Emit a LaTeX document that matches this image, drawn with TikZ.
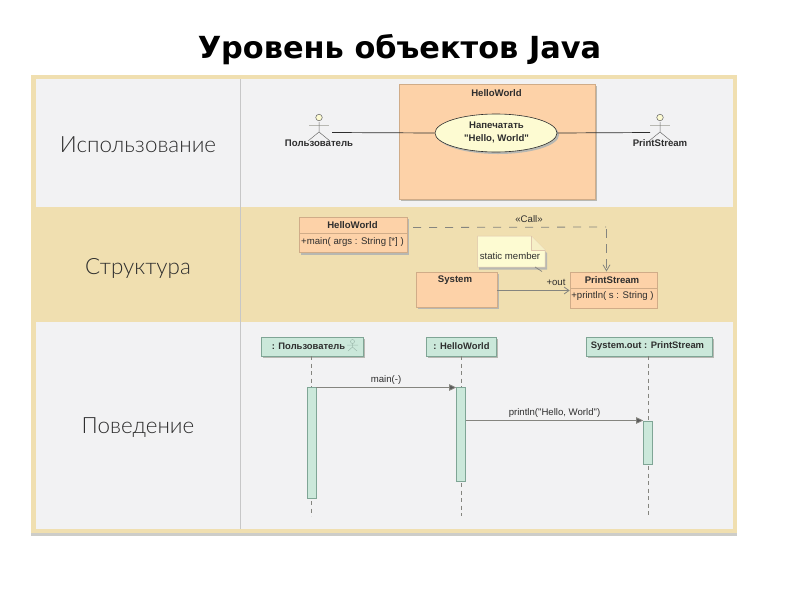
\documentclass[tikz,border=0pt]{standalone}
\usepackage{fontspec}
\setmainfont[Ligatures=NoCommon,Mapping=]{Liberation Sans}
\newfontfamily\titlefont{DejaVu Sans}
\newfontfamily\headfont{Lato Light}
\usetikzlibrary{shapes.geometric,arrows.meta}
\definecolor{beige}{HTML}{F0DFB0}
\definecolor{panel}{HTML}{F2F2F3}
\definecolor{peach}{HTML}{FDD2A8}
\definecolor{peachline}{HTML}{D0AC88}
\definecolor{mint}{HTML}{CBE8DA}
\definecolor{mintline}{HTML}{7FA595}
\definecolor{cream}{HTML}{FDFBD2}
\definecolor{shade}{HTML}{B8B8B2}
\definecolor{ink}{HTML}{2E2E2E}
\definecolor{wire}{HTML}{85857F}
\tikzset{
  x=1pt,y=-1pt,
  headlabel/.style={font=\headfont\fontsize{22.4}{26}\selectfont,text=ink,inner sep=0pt,anchor=center},
  small/.style={font=\fontsize{9.6}{13}\selectfont,text=ink,inner sep=0pt,anchor=center,align=center},
  smallb/.style={small,font=\bfseries\fontsize{9.6}{13}\selectfont},
  seqb/.style={small,font=\bfseries\fontsize{9.4}{11}\selectfont},
  peachbox/.style={draw=peachline,fill=peach,line width=.6pt},
  mintbox/.style={draw=mintline,fill=mint,line width=.6pt},
  shadowbox/.style={fill=shade,draw=none},
  wireline/.style={draw=wire,line width=.8pt},
  life/.style={draw=wire,line width=.8pt,dash pattern=on 4pt off 3.5pt},
  msg/.style={wireline,-{Triangle[length=7pt,width=6.5pt,fill=ink!80]}},
  openarrow/.style={wireline,-{Straight Barb[length=5pt,width=7pt]}},
}
\begin{document}
\begin{tikzpicture}
\useasboundingbox (0,0) rectangle (800,600);
\fill[white] (0,0) rectangle (800,600);
% title
\node[font=\titlefont\bfseries\fontsize{30.4}{34}\selectfont,inner sep=0pt] (title) at (399.5,49.5) {Уровень объектов Java};
% panels
\fill[shade!70] (31,532) rectangle (737,536);
\fill[beige] (31,75) rectangle (737,533);
\fill[panel] (36,79) rectangle (733,207);
\fill[panel] (36,322) rectangle (733,529);
\draw[draw=black!22,line width=.7pt] (240,79) -- (240,529);
\node[headlabel] (h1) at (138,145) {Использование};
\node[headlabel] (h2) at (138,268) {Структура};
\node[headlabel] (h3) at (138,428) {Поведение};
% use case
\fill[shadowbox] (400.5,86) rectangle (597,201);
\node[peachbox,minimum width=196pt,minimum height=114.5pt,inner sep=0pt] (sys) at (497,142) {};
\node[smallb] (syslabel) at (496.5,93.5) {HelloWorld};
\node[ellipse,fill=shade,minimum width=122pt,minimum height=38pt,inner sep=0pt] (ucs) at (498,135) {};
\node[ellipse,draw=ink,fill=cream,line width=.6pt,minimum width=122pt,minimum height=38pt,inner sep=0pt] (uc) at (496,133) {};
\node[smallb] (uctext) at (496.5,132.5) {Напечатать\\\char34 Hello, World\char34};
% actors
\foreach \n/\cx/\txt in {a/319/Пользователь,b/660/PrintStream}{
  \coordinate (\n h) at (\cx,117.5);
  \draw[draw=shade,line width=1pt] (\cx-10,125.5) -- (\cx+10,125.5);
  \draw[draw=ink!70,line width=.5pt] (\cx,122) -- (\cx,132) -- (\cx-11,141) (\cx,132) -- (\cx+11,141);
  \node[circle,draw=ink!75,fill=cream,line width=.5pt,minimum size=6.5pt,inner sep=0pt] (\n) at (\n h) {};
  \node[smallb] (\n t) at (\cx,143.5) {\txt};
}
\coordinate (al) at (332,132.5);
\coordinate (bl) at (650,132.5);
\draw[draw=ink,line width=.7pt] (al) -- (uc.west);
\draw[draw=ink,line width=.7pt] (uc.east) -- (bl);
% class diagram
\fill[shadowbox] (301,219) rectangle (409,255);
\node[peachbox,minimum width=108pt,minimum height=35pt,inner sep=0pt] (hw) at (353,234.5) {};
\draw[draw=peachline,line width=.6pt] (299,233.5) -- (407,233.5);
\node[smallb] (hwt) at (352.5,225.5) {HelloWorld};
\node[small] (hwm) at (352.5,242.5) {+main( args : String [*] )};
\fill[shadowbox] (418,273.5) rectangle (499,309);
\node[peachbox,minimum width=81pt,minimum height=35.5pt,inner sep=0pt] (sy) at (456.5,290) {};
\node[smallb] (syt) at (455,280) {System};
\fill[shadowbox] (572,273.5) rectangle (658,309);
\node[peachbox,minimum width=87pt,minimum height=36pt,inner sep=0pt] (ps) at (613.5,290) {};
\draw[draw=peachline,line width=.6pt] (570,288) -- (657,288);
\node[smallb] (pst) at (612,280) {PrintStream};
\node[small] (psm) at (612.5,296) {+println( s : String )};
% note
\fill[shadowbox] (479,238) -- (531,238) -- (547,253) -- (547,269.5) -- (479,269.5) -- cycle;
\draw[draw=peachline!70,fill=cream,line width=.5pt] (477.5,236) -- (531,236) -- (545,250) -- (545,267) -- (477.5,267) -- cycle;
\draw[draw=peachline!70,fill=cream!85!peachline,line width=.5pt] (531,236) -- (531,250) -- (545,250);
\node[small] (nt) at (510,256.5) {static member};
\coordinate (nc) at (535,267);
\coordinate (nd) at (542,271.5);
\draw[draw=wire,line width=.7pt] (nc) -- (nd);
% connectors
\coordinate (callend) at (606,227);
\draw[draw=wire,line width=.8pt,dash pattern=on 8pt off 8pt] (413,227.5) -- (callend);
\draw[draw=wire,line width=.8pt,dash pattern=on 9pt off 6pt,-{Straight Barb[length=6pt,width=7pt]}] (606.5,229) -- (606.5,271.5);
\node[small] (call) at (529,219.5) {«Call»};
\draw[openarrow] (sy.east |- 0,290.5) -- (ps.west |- 0,290.5);
\node[small] (out) at (556,282.5) {+out};
% sequence heads
\foreach \n/\l/\r/\txt in {s/261/363/{: Пользователь},t/426/496/{: HelloWorld},u/586/712/{System.out : PrintStream}}{
  \fill[shadowbox] (\l+2,339) rectangle (\r+2,358);
  \draw[mintbox] (\l,337) rectangle (\r,356);
}
\node[seqb] (st) at (308.5,346) {: Пользователь};
\node[seqb] (tt) at (461.5,346) {: HelloWorld};
\node[seqb] (ut) at (647.5,346.5) {System.out : PrintStream};
\draw[draw=mintline!75,line width=.5pt] (352.5,341.5) circle (2pt) (347,345) -- (358,345) (352.5,343.5) -- (352.5,347) -- (348,351) (352.5,347) -- (357,351);
% lifelines
\foreach \x/\ya/\yb/\yc/\yd in {311.5/356/387/499/516,461/356/387/481/516,648/356/420/464/516}{
  \draw[life] (\x,\ya) -- (\x,\yb);
  \draw[life] (\x,\yc+2) -- (\x,\yd);
}
% activations
\node[mintbox,minimum width=9pt,minimum height=111.5pt,inner sep=0pt] (a1) at (311.5,443) {};
\node[mintbox,minimum width=9pt,minimum height=94pt,inner sep=0pt] (a2) at (461,434) {};
\node[mintbox,minimum width=9pt,minimum height=43pt,inner sep=0pt] (a3) at (648,442.5) {};
\draw[msg] (a1.east |- 0,387.5) -- (a2.west |- 0,387.5);
\draw[msg] (a2.east |- 0,420.5) -- (a3.west |- 0,420.5);
\node[small] (m1) at (386,380) {main(-)};
\node[small] (m2) at (554.5,413) {println(\char34 Hello, World\char34)};
\end{tikzpicture}
\end{document}
